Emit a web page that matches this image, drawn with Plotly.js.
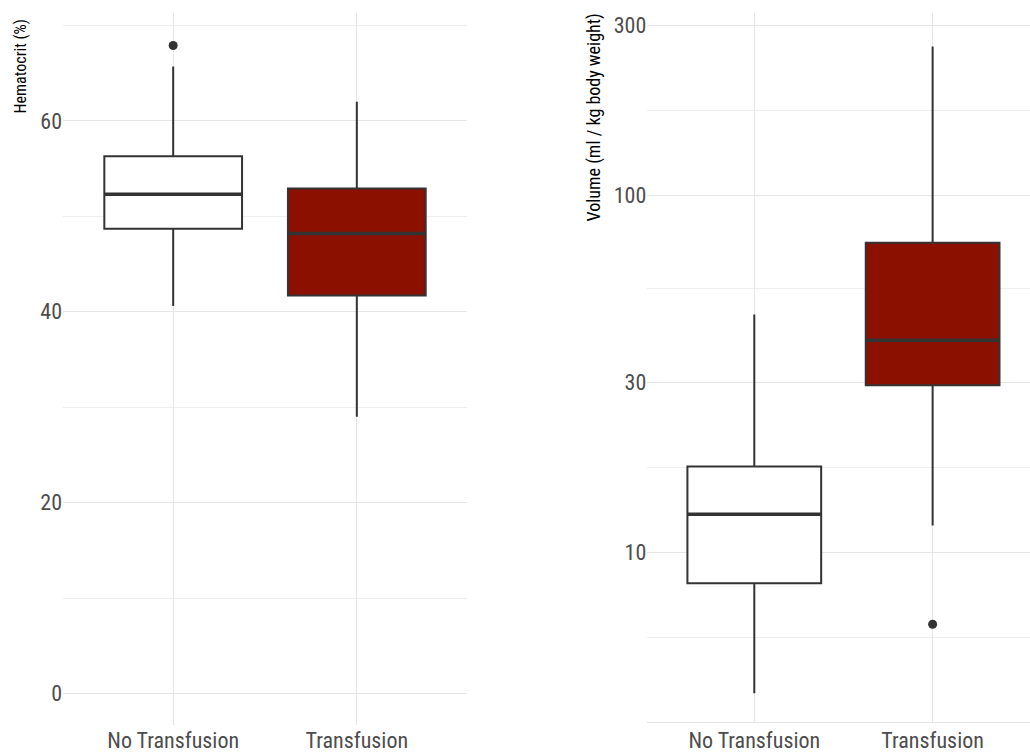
<!DOCTYPE html>
<html>
<head>
<meta charset="utf-8">
<script src="https://cdn.plot.ly/plotly-3.0.1.min.js"></script>
<style>html,body{margin:0;padding:0;background:#fff;}#chart{width:1030px;height:754px;}</style>
</head>
<body>
<div id="chart"></div>
<script>
// Data
const categories = ["No Transfusion", "Transfusion"];
const fills = ["#FFFFFF", "#8B1000"];

// Hematocrit (%)
const hctLowerFence = [40.6, 29.0];
const hctQ1 = [48.7, 41.7];
const hctMedian = [52.3, 48.2];
const hctQ3 = [56.3, 52.9];
const hctUpperFence = [65.7, 62.0];
const hctOutliers = [[67.9], []];

// Volume (ml / kg body weight), log scale
const volLowerFence = [4.03, 11.9];
const volQ1 = [8.19, 29.4];
const volMedian = [12.8, 39.3];
const volQ3 = [17.4, 73.8];
const volUpperFence = [46.4, 262];
const volOutliers = [[], [6.29]];

const hctTicks = [0, 20, 40, 60];
const hctMinor = [10, 30, 50, 70];
const volTicks = [10, 30, 100, 300];
const volMinor = [5.78, 17.3, 54.8, 173];

const FONT = "'Roboto Condensed', 'Liberation Sans Narrow', 'DejaVu Sans Condensed', Roboto, sans-serif";
const LINE = "#333333";
const BOXW = 0.75;

const traces = [];
function addPanel(xa, ya, lf, q1, med, q3, uf, outl) {
  categories.forEach((c, i) => {
    traces.push({
      type: "box", xaxis: xa, yaxis: ya, x: [i],
      q1: [q1[i]], median: [med[i]], q3: [q3[i]],
      lowerfence: [lf[i]], upperfence: [uf[i]],
      width: BOXW, fillcolor: fills[i],
      line: {color: LINE, width: 2}, whiskerwidth: 0,
      boxpoints: false, showlegend: false, hoverinfo: "skip", name: c
    });
    traces.push({
      type: "scatter", mode: "lines", xaxis: xa, yaxis: ya,
      x: [i - BOXW / 2, i + BOXW / 2], y: [med[i], med[i]],
      line: {color: LINE, width: 3.5}, showlegend: false, hoverinfo: "skip"
    });
    if (outl[i].length) {
      traces.push({
        type: "scatter", mode: "markers", xaxis: xa, yaxis: ya,
        x: outl[i].map(() => i), y: outl[i],
        marker: {color: LINE, size: 9}, showlegend: false, hoverinfo: "skip"
      });
    }
  });
}
addPanel("x", "y", hctLowerFence, hctQ1, hctMedian, hctQ3, hctUpperFence, hctOutliers);
addPanel("x2", "y2", volLowerFence, volQ1, volMedian, volQ3, volUpperFence, volOutliers);

const tickFont = {family: FONT, size: 22, color: "#4D4D4D"};
const GRID = "#E6E6E6";
const xBase = {
  tickmode: "array", tickvals: [0, 1], ticktext: categories,
  showgrid: true, gridcolor: GRID, gridwidth: 1, zeroline: false,
  showline: false, ticks: "", tickfont: tickFont, fixedrange: true
};

const layout = {
  width: 1030, height: 754,
  margin: {l: 0, r: 0, t: 0, b: 0},
  paper_bgcolor: "#FFFFFF", plot_bgcolor: "#FFFFFF",
  showlegend: false,
  xaxis: Object.assign({}, xBase, {domain: [63/1030, 467/1030], range: [-0.6, 1.6], anchor: "y",
    ticklabelstandoff: 0}),
  yaxis: {
    domain: [1 - 725/754, 1 - 13/754], range: [-3.3, 71.3], anchor: "x",
    tickmode: "array", tickvals: hctTicks, ticktext: hctTicks.map(String),
    showgrid: true, gridcolor: GRID, gridwidth: 1, zeroline: false, ticks: "",
    tickfont: tickFont, showline: false,
    minor: {tickmode: "array", tickvals: hctMinor, showgrid: true, gridcolor: "#EEEEEE", gridwidth: 1}
  },
  xaxis2: Object.assign({}, xBase, {domain: [647.3/1030, 1], range: [-0.6, 1.546], anchor: "y2",
    showline: true, linecolor: GRID, linewidth: 1, ticklabelstandoff: -1}),
  yaxis2: {
    type: "log", domain: [1 - 722/754, 1 - 13/754], range: [0.5246, 2.512], anchor: "x2",
    tickmode: "array", tickvals: volTicks, ticktext: volTicks.map(String),
    showgrid: true, gridcolor: GRID, gridwidth: 1, zeroline: false, ticks: "",
    tickfont: tickFont, showline: false,
    minor: {tickmode: "array", tickvals: volMinor, showgrid: true, gridcolor: "#EEEEEE", gridwidth: 1}
  },
  annotations: [
    {text: "Hematocrit (%)", xref: "paper", yref: "paper", x: 20/1030, y: 1 - 66.5/754,
     xanchor: "center", yanchor: "middle", textangle: -90, showarrow: false,
     font: {family: FONT, size: 16, color: "#000000"}},
    {text: "Volume (ml / kg body weight)", xref: "paper", yref: "paper", x: 593/1030, y: 1 - 117.5/754,
     xanchor: "center", yanchor: "middle", textangle: -90, showarrow: false,
     font: {family: FONT, size: 18, color: "#000000"}}
  ]
};

Plotly.newPlot("chart", traces, layout, {staticPlot: true, displayModeBar: false});
</script>
</body>
</html>
